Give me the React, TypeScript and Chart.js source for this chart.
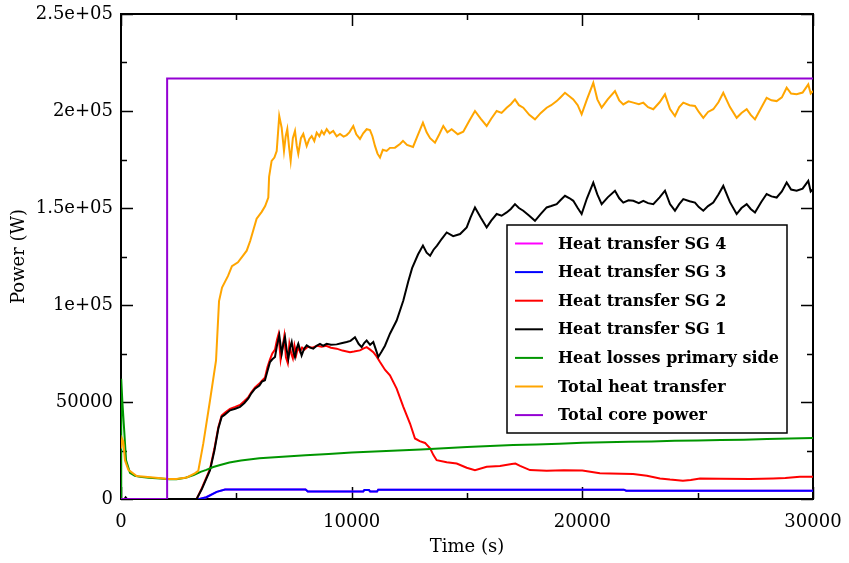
import React, { useEffect, useRef } from 'react';
import { Chart, registerables } from 'chart.js';

Chart.register(...registerables);

// ---- axis ticks ----
const xMajorTicks = [0, 10000, 20000, 30000];
const xMinorTicks = [5000, 15000, 25000];
const xTickLabels = ['0', '10000', '20000', '30000'];
const yMajorTicks = [0, 50000, 100000, 150000, 200000, 250000];
const yMinorTicks = [25000, 75000, 125000, 175000, 225000];
const yTickLabels = ['0', '50000', '1e+05', '1.5e+05', '2e+05', '2.5e+05'];

const xTitle = 'Time (s)';
const yTitle = 'Power (W)';

// ---- series (legend order) ----
const seriesNames = [
  'Heat transfer SG 4',
  'Heat transfer SG 3',
  'Heat transfer SG 2',
  'Heat transfer SG 1',
  'Heat losses primary side',
  'Total heat transfer',
  'Total core power',
];
const seriesColors = ['#ff00ff', '#0000ff', '#ff0000', '#000000', '#009600', '#ffa500', '#9400d3'];

const sg4Time = [0, 3400, 3700, 4150, 4510, 8000, 8100, 10500, 10550, 10750, 10800, 11100, 11150, 21800, 21900, 30000];
const sg4Power = [0, 0, 900, 3700, 4900, 4900, 3900, 3900, 4600, 4600, 3900, 3900, 4800, 4800, 4300, 4300];

const sg3Time = [0, 3400, 3700, 4150, 4510, 8000, 8100, 10500, 10550, 10750, 10800, 11100, 11150, 21800, 21900, 30000];
const sg3Power = [0, 0, 900, 3700, 4900, 4900, 3900, 3900, 4600, 4600, 3900, 3900, 4800, 4800, 4300, 4300];

const sg2Time = [
  0, 3280, 3500, 3860, 4050, 4220, 4364, 4500, 4725, 4950,
  5160, 5350, 5520, 5650, 5810, 6000, 6110, 6240, 6350, 6460,
  6560, 6676, 6760, 6830, 6920, 7000, 7080, 7150, 7230, 7300,
  7380, 7450, 7520, 7600, 7680, 7760, 7850, 7950, 8100, 8300,
  8500, 8700, 8900, 9100, 9350, 9600, 9927, 10100, 10360, 10500,
  10650, 10800, 10938, 11080, 11228, 11450, 11660, 11950, 12240, 12530,
  12745, 12950, 13180, 13400, 13550, 13685, 14120, 14553, 14987, 15346,
  15853, 16430, 16937, 17100, 17300, 17730, 18454, 19200, 20000, 20760,
  21200, 22200, 22800, 23366, 23800, 24360, 24700, 25100, 26000, 27270,
  28270, 28800, 29430, 30000,
];
const sg2Power = [
  0, 0, 5500, 15500, 26000, 37000, 43000, 44500, 46500, 47500,
  48500, 50500, 52500, 55000, 57500, 59500, 61000, 62500, 68000, 72000,
  75000, 77000, 82000, 85000, 72000, 78000, 84000, 73000, 70000, 80000,
  75000, 72500, 79000, 74500, 78500, 76000, 78000, 77000, 78500, 78000,
  79000, 78500, 79000, 78000, 77500, 76500, 75700, 76000, 76600, 77500,
  78300, 77000, 75700, 73500, 70600, 66500, 63700, 56900, 47500, 38900,
  31200, 29800, 28900, 26100, 22500, 20000, 18900, 18300, 16100, 14900,
  16600, 17000, 18000, 18300, 17100, 14900, 14600, 14800, 14700, 13300,
  13200, 12850, 12000, 10600, 10000, 9400, 9800, 10600, 10500, 10300,
  10600, 10800, 11500, 11500,
];

const sg1Time = [
  0, 150, 200, 260, 3280, 3500, 3860, 4050, 4220, 4364,
  4500, 4725, 4950, 5160, 5350, 5520, 5650, 5810, 6000, 6110,
  6240, 6350, 6460, 6560, 6676, 6760, 6863, 6965, 7040, 7110,
  7180, 7253, 7330, 7400, 7470, 7543, 7610, 7686, 7760, 7830,
  7940, 8050, 8200, 8336, 8480, 8627, 8770, 8917, 9100, 9350,
  9550, 9784, 9950, 10144, 10300, 10434, 10550, 10650, 10800, 10938,
  11050, 11155, 11300, 11444, 11660, 11950, 12240, 12450, 12620, 12875,
  13090, 13250, 13400, 13550, 13700, 13900, 14120, 14400, 14700, 14987,
  15150, 15346, 15600, 15853, 16050, 16286, 16500, 16720, 16900, 17080,
  17250, 17440, 17700, 17947, 18200, 18454, 18650, 18888, 19050, 19247,
  19450, 19608, 19800, 19970, 20200, 20475, 20650, 20838, 21100, 21415,
  21600, 21775, 22000, 22210, 22450, 22643, 22850, 23076, 23350, 23583,
  23800, 24016, 24200, 24377, 24650, 24883, 25050, 25244, 25450, 25677,
  25900, 26110, 26400, 26690, 26900, 27125, 27300, 27485, 27750, 27990,
  28200, 28425, 28650, 28858, 29050, 29290, 29550, 29795, 29900, 30000,
];
const sg1Power = [
  0, 0, 800, 0, 0, 5000, 14900, 25000, 36300, 42300,
  43500, 45700, 46500, 47500, 49500, 51800, 54500, 56900, 58500, 60500,
  61200, 66000, 70600, 72000, 73200, 79000, 84300, 74900, 80000, 83400,
  77000, 72300, 78000, 80900, 76000, 73200, 77500, 80000, 77000, 74000,
  77500, 79200, 78000, 77500, 79000, 80000, 79000, 80000, 79500, 79700,
  80300, 80900, 81500, 83400, 80000, 78300, 80500, 81700, 79500, 80900,
  77000, 73200, 76000, 79000, 85200, 92000, 102300, 112000, 119000, 126000,
  130600, 127000, 125400, 128500, 130600, 134000, 137400, 135500, 136600, 140000,
  145000, 150300, 145000, 140000, 143500, 146900, 146000, 147700, 149500, 152000,
  150000, 148600, 146000, 143400, 147000, 150300, 151000, 152000, 154000, 156300,
  155000, 153700, 150000, 146900, 155000, 163100, 157000, 152000, 155500, 158900,
  155000, 152800, 154000, 153700, 152500, 153700, 152500, 152000, 155500, 158900,
  152000, 148600, 152000, 154600, 153500, 152800, 150500, 148600, 151000, 152800,
  157000, 161400, 153000, 146900, 150000, 152000, 149500, 147700, 153000, 157200,
  156000, 155400, 158500, 163100, 159500, 158900, 160000, 164000, 158500, 159700,
];

const lossTime = [
  0, 10, 60, 130, 220, 390, 600, 820, 1200, 1700,
  2100, 2400, 2800, 3150, 3450, 3700, 4000, 4300, 4700, 5200,
  6000, 7000, 8000, 9000, 10000, 11000, 12000, 13000, 14000, 15000,
  16000, 17000, 18000, 19000, 20000, 21000, 22000, 23000, 24000, 25000,
  26000, 27000, 28000, 29000, 30000,
];
const lossPower = [
  0, 62000, 50000, 37000, 20000, 13500, 12000, 11400, 11000, 10600,
  10200, 10200, 11000, 12300, 14000, 15000, 16500, 17500, 18800, 19800,
  21000, 21800, 22500, 23200, 24000, 24500, 25000, 25500, 26200, 26800,
  27300, 27800, 28100, 28500, 29000, 29200, 29500, 29700, 30000, 30200,
  30400, 30600, 30900, 31200, 31400,
];

const totalTime = [
  0, 50, 100, 170, 320, 680, 1400, 2050, 2400, 2850,
  3200, 3350, 3570, 3860, 4120, 4250, 4380, 4640, 4810, 5070,
  5290, 5450, 5600, 5880, 6100, 6250, 6386, 6420, 6530, 6650,
  6750, 6860, 6965, 7066, 7140, 7210, 7290, 7356, 7450, 7543,
  7620, 7686, 7800, 7903, 8050, 8160, 8267, 8380, 8484, 8600,
  8700, 8800, 8917, 9050, 9200, 9350, 9494, 9650, 9784, 9900,
  10070, 10200, 10360, 10500, 10650, 10794, 10900, 11010, 11120, 11228,
  11350, 11516, 11660, 11878, 12095, 12225, 12400, 12660, 12850, 13090,
  13250, 13400, 13612, 13800, 13972, 14150, 14335, 14600, 14838, 15100,
  15346, 15600, 15853, 16050, 16286, 16500, 16720, 16900, 17080, 17250,
  17440, 17700, 17947, 18200, 18454, 18650, 18888, 19050, 19247, 19450,
  19608, 19800, 19970, 20200, 20475, 20650, 20838, 21100, 21415, 21600,
  21775, 22000, 22210, 22450, 22643, 22850, 23076, 23350, 23583, 23800,
  24016, 24200, 24377, 24650, 24883, 25050, 25244, 25450, 25677, 25900,
  26110, 26400, 26690, 26900, 27125, 27300, 27485, 27750, 27990, 28200,
  28425, 28650, 28858, 29050, 29290, 29550, 29795, 29900, 30000,
];
const totalPower = [
  26000, 31000, 29500, 20000, 15000, 11800, 11100, 10300, 10300, 11100,
  13200, 14500, 28800, 50900, 71500, 102000, 109000, 115000, 120000, 122000,
  125500, 128000, 133000, 144500, 148000, 151000, 155400, 166000, 174300, 176000,
  179400, 197400, 191400, 179400, 187000, 190700, 181000, 174300, 186000, 189700,
  182000, 177900, 186000, 188200, 182000, 185500, 187100, 184500, 188800, 187000,
  189700, 188000, 190700, 188500, 189700, 187000, 188200, 186800, 187600, 189000,
  192300, 188000, 185600, 188500, 190600, 190200, 187000, 182000, 178000, 176000,
  180000, 179400, 181000, 181100, 183000, 184600, 182500, 181500, 187000, 194000,
  189000, 186000, 183700, 188000, 192300, 189000, 190600, 188000, 189300, 195000,
  200000, 196000, 192300, 196000, 200000, 199000, 201700, 203500, 206000, 203000,
  201700, 198000, 195700, 199000, 201700, 203000, 205100, 207000, 209400, 207500,
  206000, 203000, 198300, 206000, 214500, 206000, 201700, 206000, 210300, 205500,
  203400, 205000, 204300, 203500, 204300, 202000, 200900, 204500, 208600, 201000,
  197400, 202000, 204300, 203000, 202600, 199500, 196500, 199500, 200900, 204500,
  209400, 202000, 196500, 199000, 200900, 198000, 195700, 201500, 206800, 205500,
  205100, 207000, 212000, 209000, 208600, 209500, 213700, 209000, 210300,
];

const coreTime = [0, 2000, 2000, 30000];
const corePower = [0, 0, 216800, 216800];

const seriesTimes = [sg4Time, sg3Time, sg2Time, sg1Time, lossTime, totalTime, coreTime];
const seriesPowers = [sg4Power, sg3Power, sg2Power, sg1Power, lossPower, totalPower, corePower];

const FONT = "'DejaVu Serif', serif";

const frameTicksPlugin = {
  id: 'frameTicks',
  beforeDatasetsDraw(chart: any) {
    const { ctx, chartArea: a, scales } = chart;
    const xs = scales.x;
    const ys = scales.y;
    ctx.save();
    ctx.strokeStyle = '#000';
    ctx.lineWidth = 2;
    ctx.strokeRect(a.left, a.top, a.right - a.left, a.bottom - a.top);
    ctx.lineWidth = 1.5;
    ctx.beginPath();
    const xTick = (v: number, len: number) => {
      const px = Math.round(xs.getPixelForValue(v)) + 0.5;
      ctx.moveTo(px, a.bottom); ctx.lineTo(px, a.bottom - len);
      ctx.moveTo(px, a.top); ctx.lineTo(px, a.top + len);
    };
    const yTick = (v: number, len: number) => {
      const py = Math.round(ys.getPixelForValue(v)) + 0.5;
      ctx.moveTo(a.left, py); ctx.lineTo(a.left + len, py);
      ctx.moveTo(a.right, py); ctx.lineTo(a.right - len, py);
    };
    xMajorTicks.forEach((v) => xTick(v, 12));
    xMinorTicks.forEach((v) => xTick(v, 6));
    yMajorTicks.forEach((v) => yTick(v, 12));
    yMinorTicks.forEach((v) => yTick(v, 6));
    ctx.stroke();
    ctx.restore();
  },
};

const legendPlugin = {
  id: 'boxLegend',
  afterDraw(chart: any) {
    const { ctx, chartArea: a } = chart;
    const bx = a.right - 306;
    const by = a.top + 211;
    const bw = 280;
    const bh = 208;
    ctx.save();
    ctx.fillStyle = '#fff';
    ctx.fillRect(bx, by, bw, bh);
    ctx.strokeStyle = '#000';
    ctx.lineWidth = 1.5;
    ctx.strokeRect(bx, by, bw, bh);
    ctx.font = `bold 16px ${FONT}`;
    ctx.textBaseline = 'middle';
    ctx.textAlign = 'left';
    chart.data.datasets.forEach((ds: any, i: number) => {
      const y = by + 18.5 + i * 28.6;
      ctx.strokeStyle = ds.borderColor;
      ctx.lineWidth = 2;
      ctx.beginPath();
      ctx.moveTo(bx + 8, y);
      ctx.lineTo(bx + 36, y);
      ctx.stroke();
      ctx.fillStyle = '#000';
      ctx.fillText(ds.label, bx + 51, y + 1);
    });
    ctx.restore();
  },
};

export default function App() {
  const canvasRef = useRef<HTMLCanvasElement | null>(null);

  useEffect(() => {
    const canvas = canvasRef.current;
    if (!canvas) return;
    const datasets = seriesNames.map((name, i) => ({
      label: name,
      data: seriesTimes[i].map((t, k) => ({ x: t, y: seriesPowers[i][k] })),
      borderColor: seriesColors[i],
      backgroundColor: seriesColors[i],
      borderWidth: 2,
      pointRadius: 0,
      tension: 0,
      fill: false,
      order: seriesNames.length - 1 - i,
    }));
    const chart = new Chart(canvas, {
      type: 'line',
      data: { datasets },
      options: {
        responsive: false,
        animation: false,
        events: [],
        layout: { padding: { top: 14, right: 36, left: 0, bottom: 5 } },
        plugins: {
          legend: { display: false },
          tooltip: { enabled: false },
        },
        scales: {
          x: {
            type: 'linear',
            min: 0,
            max: 30000,
            afterFit: (s: any) => {
              s.height = 59;
              s.paddingLeft = 0;
              s.paddingRight = 0;
            },
            afterBuildTicks: (s: any) => { s.ticks = xMajorTicks.map((v) => ({ value: v })); },
            grid: { display: false, drawTicks: false },
            border: { display: false },
            ticks: {
              color: '#000',
              padding: 13,
              maxRotation: 0,
              font: { family: FONT, size: 18 },
              callback: (v: any) => {
                const i = xMajorTicks.indexOf(Number(v));
                return i >= 0 ? xTickLabels[i] : '';
              },
            },
            title: {
              display: true,
              text: xTitle,
              color: '#000',
              font: { family: FONT, size: 18 },
              padding: { top: 0, bottom: 0 },
            },
          },
          y: {
            type: 'linear',
            min: 0,
            max: 250000,
            afterFit: (s: any) => {
              s.width = 121;
              s.paddingTop = 0;
              s.paddingBottom = 0;
            },
            afterBuildTicks: (s: any) => { s.ticks = yMajorTicks.map((v) => ({ value: v })); },
            grid: { display: false, drawTicks: false },
            border: { display: false },
            ticks: {
              color: '#000',
              padding: 8,
              font: { family: FONT, size: 18 },
              callback: (v: any) => {
                const i = yMajorTicks.indexOf(Number(v));
                return i >= 0 ? yTickLabels[i] : '';
              },
            },
            title: {
              display: true,
              text: yTitle,
              color: '#000',
              font: { family: FONT, size: 18 },
              padding: { top: 9, bottom: 0 },
            },
          },
        },
      },
      plugins: [frameTicksPlugin, legendPlugin],
    });
    return () => chart.destroy();
  }, []);

  return (
    <div style={{ position: 'fixed', left: 0, top: 0, width: 849, height: 563, background: '#fff' }}>
      <canvas ref={canvasRef} width={849} height={563} />
    </div>
  );
}
